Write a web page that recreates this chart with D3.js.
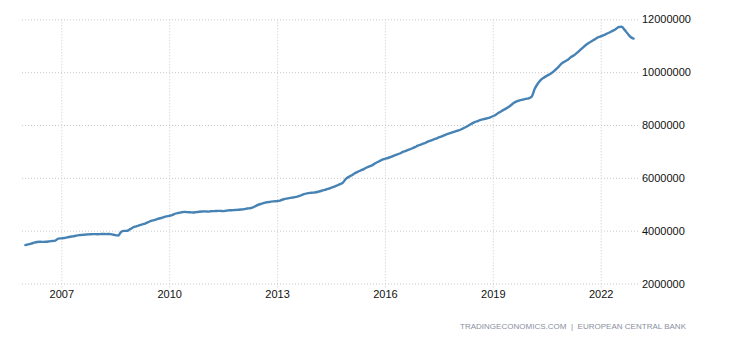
<!DOCTYPE html>
<html>
<head>
<meta charset="utf-8">
<script src="https://cdn.jsdelivr.net/npm/d3@7"></script>
<style>
  html, body { margin: 0; padding: 0; background: #fff; }
  svg { display: block; }
</style>
</head>
<body>
<svg id="chart" width="730" height="340"></svg>
<script>
// Euro area money supply M1, EUR million, monthly from January 2006
const firstMonth = [2006, 0];
const m1Values = [
  // 2006
  3455000, 3480000, 3510000, 3545000, 3570000, 3580000, 3575000, 3580000, 3595000, 3610000, 3625000, 3700000,
  // 2007
  3710000, 3720000, 3745000, 3770000, 3785000, 3810000, 3830000, 3840000, 3850000, 3860000, 3865000, 3870000,
  // 2008
  3865000, 3870000, 3875000, 3870000, 3872000, 3860000, 3830000, 3815000, 3960000, 3990000, 3995000, 4060000,
  // 2009
  4130000, 4165000, 4200000, 4235000, 4270000, 4320000, 4370000, 4400000, 4440000, 4470000, 4500000, 4540000,
  // 2010
  4560000, 4590000, 4640000, 4670000, 4690000, 4710000, 4700000, 4695000, 4690000, 4700000, 4715000, 4725000,
  // 2011
  4730000, 4720000, 4735000, 4740000, 4745000, 4750000, 4740000, 4755000, 4770000, 4775000, 4780000, 4790000,
  // 2012
  4800000, 4815000, 4840000, 4850000, 4880000, 4940000, 4990000, 5020000, 5060000, 5080000, 5100000, 5110000,
  // 2013
  5120000, 5140000, 5180000, 5210000, 5230000, 5250000, 5270000, 5300000, 5340000, 5380000, 5410000, 5430000,
  // 2014
  5440000, 5455000, 5480000, 5510000, 5545000, 5580000, 5620000, 5660000, 5710000, 5760000, 5820000, 5960000,
  // 2015
  6040000, 6100000, 6170000, 6230000, 6280000, 6330000, 6390000, 6440000, 6490000, 6560000, 6620000, 6680000,
  // 2016
  6720000, 6750000, 6790000, 6840000, 6880000, 6920000, 6980000, 7020000, 7070000, 7110000, 7160000, 7220000,
  // 2017
  7260000, 7300000, 7350000, 7400000, 7440000, 7480000, 7530000, 7570000, 7620000, 7660000, 7700000, 7740000,
  // 2018
  7780000, 7810000, 7860000, 7920000, 7980000, 8050000, 8110000, 8150000, 8190000, 8220000, 8250000, 8280000,
  // 2019
  8330000, 8390000, 8460000, 8530000, 8590000, 8660000, 8740000, 8830000, 8890000, 8930000, 8960000, 8990000,
  // 2020
  9010000, 9080000, 9360000, 9560000, 9700000, 9790000, 9860000, 9920000, 10000000, 10100000, 10210000, 10330000,
  // 2021
  10400000, 10470000, 10560000, 10630000, 10720000, 10820000, 10920000, 11020000, 11100000, 11170000, 11240000, 11310000,
  // 2022
  11350000, 11400000, 11450000, 11500000, 11560000, 11620000, 11700000, 11720000, 11600000, 11460000, 11330000, 11270000
];
const xTickYears = [2007, 2010, 2013, 2016, 2019, 2022];
const yTickValues = [2000000, 4000000, 6000000, 8000000, 10000000, 12000000];
const sourceText = "TRADINGECONOMICS.COM  |  EUROPEAN CENTRAL BANK";

const series = m1Values.map((v, i) => ({
  date: new Date(firstMonth[0], firstMonth[1] + i, 1),
  value: v
}));

const plot = { left: 22, right: 638, top: 19.3, bottom: 283.5 };

const svg = d3.select("#chart");

const x = d3.scaleTime()
  .domain([new Date(xTickYears[0], 0, 1), new Date(xTickYears[xTickYears.length - 1], 0, 1)])
  .range([61.3, 600.7]);

const y = d3.scaleLinear()
  .domain([yTickValues[0], yTickValues[yTickValues.length - 1]])
  .range([plot.bottom, plot.top]);

const gridColor = "#c9c9c9";
const labelFont = "Liberation Sans, Arial, sans-serif";

// horizontal grid + right-hand value labels
const yAxis = d3.axisRight(y)
  .tickValues(yTickValues)
  .tickSize(-(plot.right - plot.left))
  .tickPadding(4)
  .tickFormat(d3.format("d"));

const gy = svg.append("g")
  .attr("transform", `translate(${plot.right},0)`)
  .call(yAxis);
gy.select(".domain").remove();
gy.selectAll(".tick line")
  .attr("stroke", gridColor)
  .attr("stroke-dasharray", "1,2");
gy.selectAll(".tick text")
  .attr("fill", "#111")
  .attr("font-family", labelFont)
  .attr("font-size", "11px");

// vertical grid + year labels
const xAxis = d3.axisBottom(x)
  .tickValues(xTickYears.map(yr => new Date(yr, 0, 1)))
  .tickSize(plot.bottom - plot.top + 4)
  .tickPadding(3)
  .tickFormat(d3.timeFormat("%Y"));

const gx = svg.append("g")
  .attr("transform", `translate(0,${plot.top})`)
  .call(xAxis);
gx.select(".domain").remove();
gx.selectAll(".tick line")
  .attr("stroke", gridColor)
  .attr("stroke-dasharray", "1,2");
gx.selectAll(".tick text")
  .attr("fill", "#111")
  .attr("font-family", labelFont)
  .attr("font-size", "11px");

// the series line
const line = d3.line()
  .x(d => x(d.date))
  .y(d => y(d.value))
  .curve(d3.curveMonotoneX);

svg.append("path")
  .datum(series)
  .attr("fill", "none")
  .attr("stroke", "#4682b4")
  .attr("stroke-width", 2.4)
  .attr("stroke-linejoin", "round")
  .attr("stroke-linecap", "round")
  .attr("d", line);

// source note
svg.append("text")
  .attr("x", 460)
  .attr("y", 328.5)
  .attr("fill", "#8a8fa0")
  .attr("font-family", labelFont)
  .attr("font-size", "8px")
  .attr("textLength", 226)
  .attr("lengthAdjust", "spacing")
  .style("white-space", "pre")
  .text(sourceText);
</script>
</body>
</html>
